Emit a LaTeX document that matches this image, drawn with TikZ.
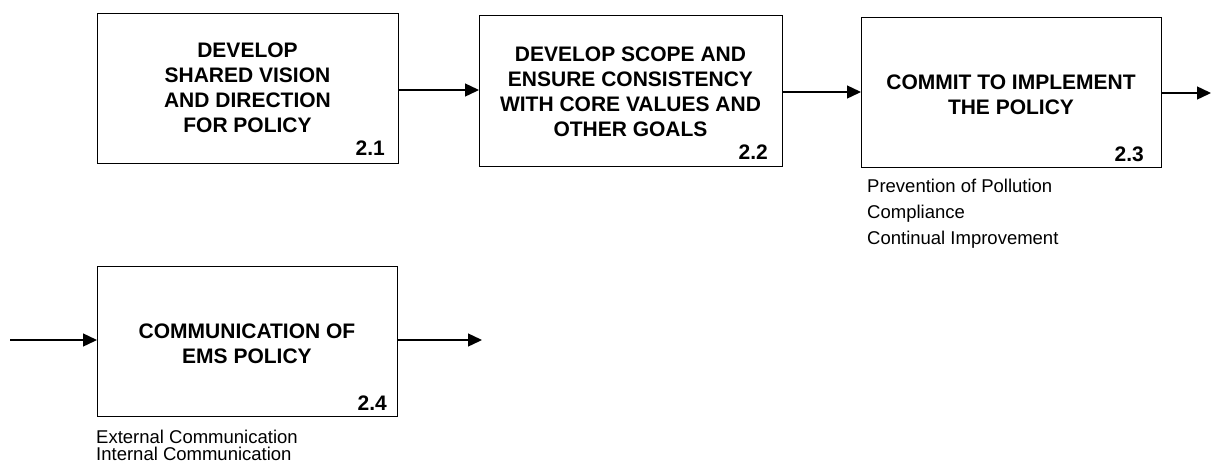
\documentclass[tikz,border=0pt]{standalone}
\usepackage{fontspec}
\setmainfont{Liberation Sans}
\usetikzlibrary{arrows.meta}
\begin{document}
\begin{tikzpicture}[x=1pt,y=-1pt,
  procbox/.style={draw,line width=1.4pt},
  title/.style={font=\fontsize{21}{25}\selectfont\bfseries,align=center,inner sep=0pt},
  num/.style={font=\fontsize{21}{25}\selectfont\bfseries,inner sep=0pt,anchor=east},
  sub/.style={font=\fontsize{18.5}{26}\selectfont,align=left,inner sep=0pt,anchor=north west},
  flow/.style={line width=1.4pt,-{Triangle[length=14pt,width=13pt]}}]
\useasboundingbox (0,0) rectangle (1211,472);
% boxes
\node[procbox,minimum width=301pt,minimum height=150pt,anchor=north west] (b1) at (97,13) {};
\node[procbox,minimum width=303pt,minimum height=151pt,anchor=north west] (b2) at (479,15) {};
\node[procbox,minimum width=300pt,minimum height=150pt,anchor=north west] (b3) at (861,17) {};
\node[procbox,minimum width=300pt,minimum height=150pt,anchor=north west] (b4) at (97,266) {};
% titles
\node[title] (t1) at (247.5,88) {DEVELOP\\SHARED VISION\\AND DIRECTION\\FOR POLICY};
\node[title] (t2) at (630.5,92) {DEVELOP SCOPE AND\\ENSURE CONSISTENCY\\WITH CORE VALUES AND\\OTHER GOALS};
\node[title] (t3) at (1011,95) {COMMIT TO IMPLEMENT\\THE POLICY};
\node[title] (t4) at (247,344) {COMMUNICATION OF\\EMS POLICY};
% numbers
\node[num] (n1) at (385,148) {2.1};
\node[num] (n2) at (768,152) {2.2};
\node[num] (n3) at (1144,154) {2.3};
\node[num] (n4) at (387,403) {2.4};
% sub lists
\node[sub] (s3) at (867,179) {Prevention of Pollution\\Compliance\\Continual Improvement};
\node[sub,font=\fontsize{18.5}{17}\selectfont] (s4) at (96,430) {External Communication\\Internal Communication};
% free ends
\coordinate (o3) at (1211,93);
\coordinate (i4) at (10,340);
\coordinate (o4) at (482,340);
% connectors
\draw[flow] (b1.east |- 0,90) -- (b2.west |- 0,90);
\draw[flow] (b2.east |- 0,92) -- (b3.west |- 0,92);
\draw[flow] (b3.east |- o3) -- (o3);
\draw[flow] (i4) -- (b4.west |- i4);
\draw[flow] (b4.east |- o4) -- (o4);
\end{tikzpicture}
\end{document}
